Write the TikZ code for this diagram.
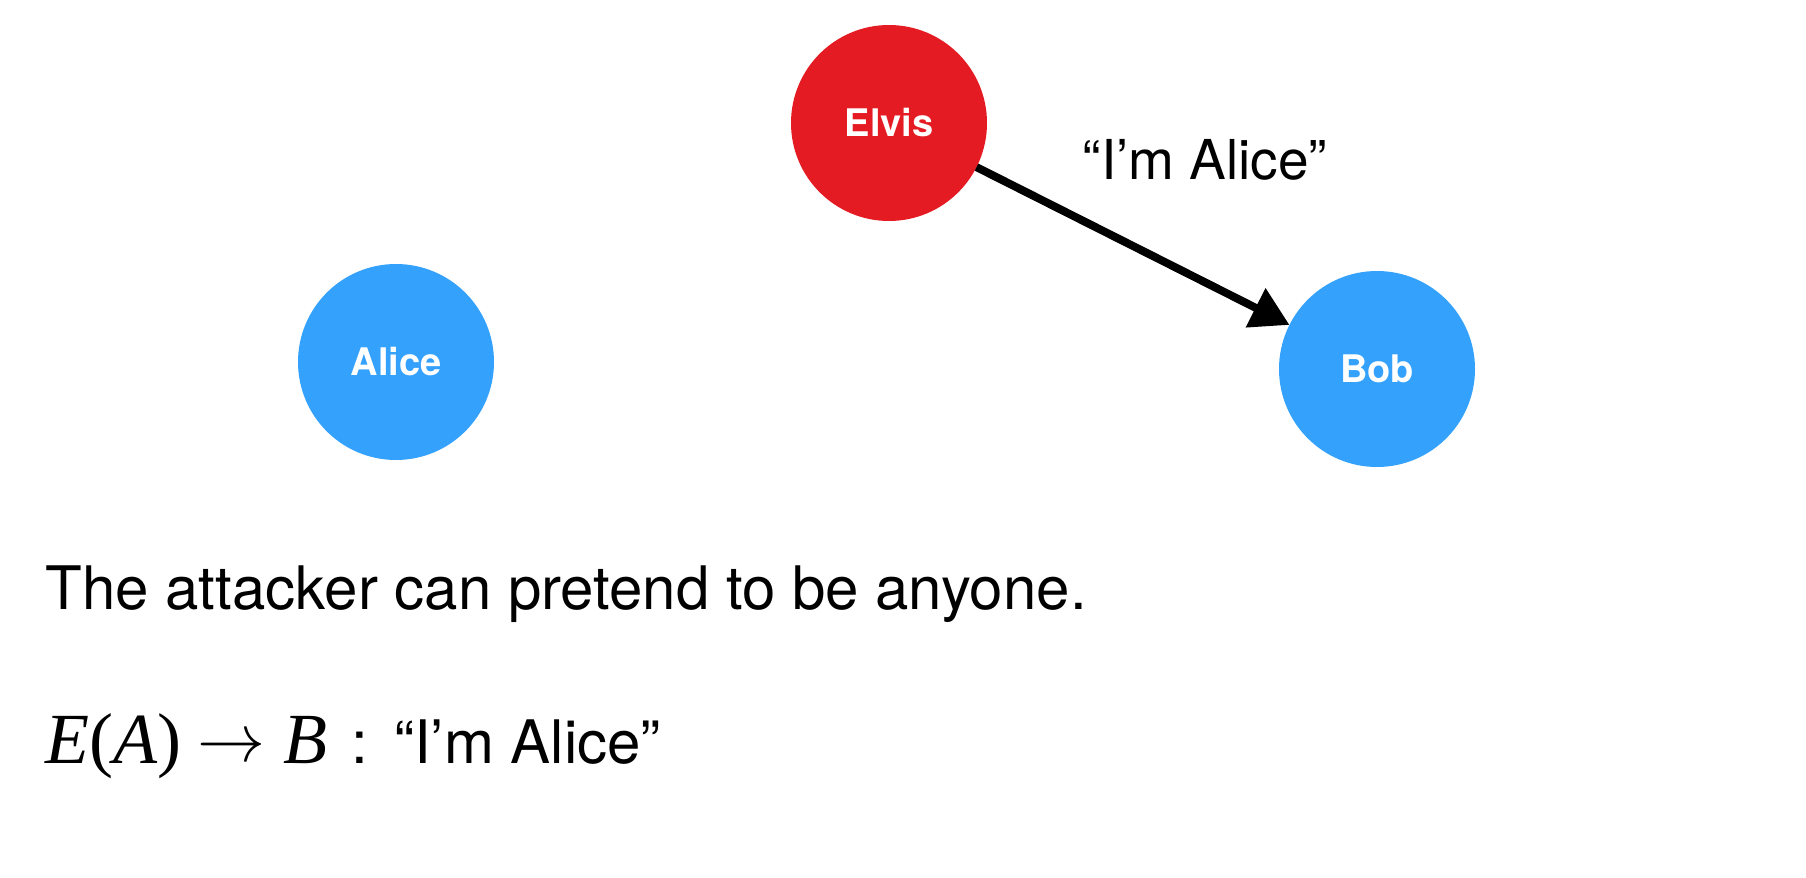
\documentclass[tikz,border=0pt]{standalone}
\usepackage{fontspec}
\setmainfont{TeX Gyre Heros}
\newfontfamily\timesfont{Liberation Serif}
\usetikzlibrary{arrows.meta}
\definecolor{alicebob}{RGB}{52,161,253}
\definecolor{elvisred}{RGB}{229,27,35}
\tikzset{person/.style={circle,minimum size=98pt,inner sep=0pt,outer sep=0pt,text=white,font=\fontsize{19}{19}\selectfont\bfseries}}

\begin{document}
\begin{tikzpicture}[x=0.5pt,y=-0.5pt,>={Triangle[length=19pt,width=21pt]},
	textline/.style={anchor=base west,inner sep=0pt,font=\fontsize{30}{36}\selectfont}]
\useasboundingbox (0,0) rectangle (1806,878);

\node[person,fill=alicebob] (alice) at (396,362) {Alice};
\node[person,fill=elvisred] (elvis) at (889,123) {Elvis};
\node[person,fill=alicebob] (bob) at (1377,369) {Bob};

\draw[->,line width=4pt] (elvis) -- (bob);
\node[font=\fontsize{27.5}{30}\selectfont] (claim) at (1205,160) {“I’m Alice”};

\node[textline] (note) at (45,609) {The attacker can pretend to be anyone.};
\node[textline] (rule) at (45,763) {{\timesfont\fontsize{36}{40}\selectfont\textit{E}(\textit{A})}\hspace{8pt}\raisebox{1pt}{\resizebox{34pt}{!}{$\rightarrow$}}\hspace{9pt}{\timesfont\fontsize{36}{40}\selectfont\textit{B}}\hspace{12pt}:\hspace{13pt}“I’m Alice”};
\end{tikzpicture}
\end{document}
